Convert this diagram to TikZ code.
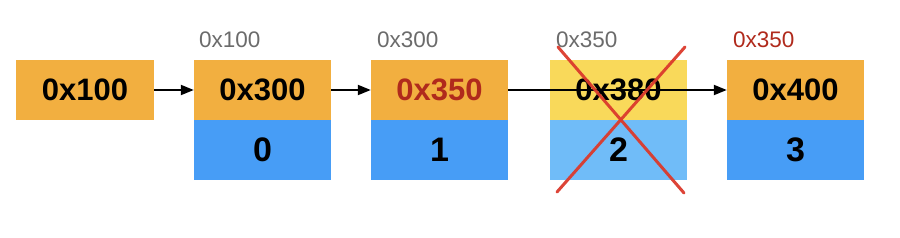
\documentclass[tikz,border=0pt]{standalone}
\usepackage{fontspec}
\setmainfont{Liberation Sans}
\usetikzlibrary{arrows.meta}
\definecolor{ptrorange}{HTML}{F2AF40}
\definecolor{valblue}{HTML}{479DF6}
\definecolor{delyellow}{HTML}{F9D95A}
\definecolor{dellblue}{HTML}{70BCF8}
\definecolor{addrgray}{HTML}{6B6B6B}
\definecolor{addrred}{HTML}{B02A1C}
\definecolor{xred}{HTML}{DB3A2C}
\tikzset{
  cell/.style={rectangle, inner sep=0pt, minimum width=137pt, minimum height=60pt,
    font=\fontsize{31}{31}\selectfont\bfseries, text=black},
  ptrcell/.style={cell, fill=ptrorange},
  valcell/.style={cell, fill=valblue, font=\fontsize{34}{34}\selectfont\bfseries},
  addr/.style={inner sep=0pt, anchor=west, font=\fontsize{22.5}{22.5}\selectfont, text=addrgray},
  link/.style={line width=2pt, draw=black, -{Triangle[length=13pt,width=10pt]}},
  cross/.style={line width=3pt, draw=xred, line cap=round, opacity=0.95}
}
\begin{document}
\begin{tikzpicture}[x=1pt,y=-1pt]
\useasboundingbox (0,0) rectangle (900,238);
% head pointer
\node[ptrcell, minimum width=138pt] (h) at (85,90) {0x100};
% node 0
\node[ptrcell] (p0) at (262.5,90) {0x300};
\node[valcell] (v0) at (262.5,150) {0};
\node[addr] (a0) at (199,40) {0x100};
% node 1
\node[ptrcell, text=addrred] (p1) at (439.5,90) {0x350};
\node[valcell] (v1) at (439.5,150) {1};
\node[addr] (a1) at (377,40) {0x300};
% node 2 (deleted)
\node[cell, fill=delyellow] (p2) at (618.5,90) {0x380};
\node[cell, fill=dellblue, font=\fontsize{34}{34}\selectfont\bfseries] (v2) at (618.5,150) {2};
\node[addr] (a2) at (556,40) {0x350};
% node 3
\node[ptrcell] (p3) at (795.5,90) {0x400};
\node[valcell] (v3) at (795.5,150) {3};
\node[addr, text=addrred] (a3) at (733,40) {0x350};
% links
\draw[link] (h.east) -- (p0.west);
\draw[link] (p0.east) -- (p1.west);
\draw[link] (p1.east) -- (p3.west);
% red cross
\coordinate (x1) at (558,47);
\coordinate (x2) at (684,193);
\coordinate (x3) at (685,47);
\coordinate (x4) at (557,192);
\draw[cross] (x1) -- (x2);
\draw[cross] (x3) -- (x4);
\end{tikzpicture}
\end{document}
